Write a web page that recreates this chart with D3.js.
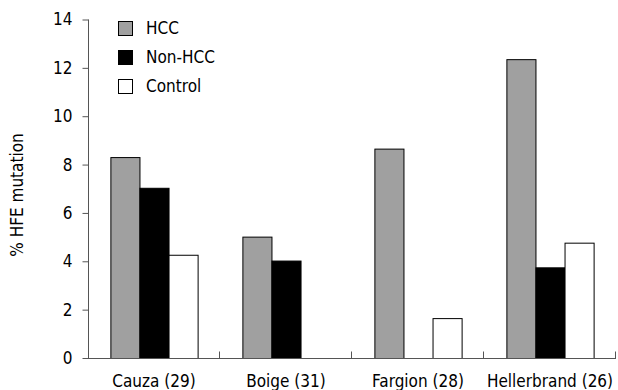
<!DOCTYPE html>
<html><head><meta charset="utf-8">
<script src="https://cdn.jsdelivr.net/npm/d3@7"></script>
<style>body{margin:0;background:#fff;} svg{display:block;} text{font-family:"DejaVu Sans Condensed","DejaVu Sans",sans-serif;}</style>
</head><body>
<svg id="c" width="618" height="390"></svg>
<script>
const categories = ["Cauza (29)", "Boige (31)", "Fargion (28)", "Hellerbrand (26)"];
const seriesNames = ["HCC", "Non-HCC", "Control"];
const hcc = [8.31, 5.02, 8.66, 12.36];
const nonHcc = [7.04, 4.03, 0, 3.75];
const control = [4.27, 0, 1.65, 4.77];
const yTicks = [0, 2, 4, 6, 8, 10, 12, 14];
const colors = ["#a0a0a0", "#000000", "#ffffff"];

const seriesValues = [hcc, nonHcc, control];
const svg = d3.select("#c");
const x = d3.scaleBand().domain(categories).range([88, 616]).paddingInner(0).paddingOuter(0);
const xs = d3.scaleBand().domain(seriesNames).range([0, x.bandwidth()]).paddingInner(0).paddingOuter(0.77);
const y = d3.scaleLinear().domain([0, 14]).range([358, 19.5]);
const fs = 17;

// bars
categories.forEach((c, ci) => {
  seriesNames.forEach((s, si) => {
    const v = seriesValues[si][ci];
    if (!v) return;
    svg.append("rect")
      .attr("x", x(c) + xs(s) + 0.5)
      .attr("y", y(v) + 0.5)
      .attr("width", xs.bandwidth())
      .attr("height", y(0) - y(v))
      .attr("fill", colors[si])
      .attr("stroke", "#000").attr("stroke-width", 1);
  });
});

// y axis
const yAxis = svg.append("g").attr("transform", "translate(88.5,0)")
  .call(d3.axisLeft(y).tickValues(yTicks).tickSize(6).tickPadding(10).tickFormat(d3.format("d")));
yAxis.select(".domain").attr("stroke", "#555").attr("d", "M0," + y(14) + "V" + y(0));
yAxis.selectAll(".tick line").attr("stroke", "#555");
yAxis.selectAll("text").attr("font-size", fs).attr("fill", "#000").style("font-family", "DejaVu Sans Condensed");

// x axis
const xb = svg.append("g").attr("transform", "translate(0," + (y(0) + 0.5) + ")");
xb.append("line").attr("x1", 88).attr("x2", 616).attr("stroke", "#555");
const bounds = categories.map(c => x(c) + x.bandwidth());
xb.selectAll(".tk").data(bounds).enter().append("line")
  .attr("x1", d => d - 0.5).attr("x2", d => d - 0.5).attr("y1", 0).attr("y2", -7).attr("stroke", "#555");
xb.selectAll(".lbl").data(categories).enter().append("text")
  .attr("x", d => x(d) + x.bandwidth() / 2).attr("y", 28.5)
  .attr("text-anchor", "middle").attr("font-size", fs).text(d => d);

// y title
svg.append("text").attr("transform", "translate(23,195) rotate(-90)")
  .attr("text-anchor", "middle").attr("font-size", fs).text("% HFE mutation");

// legend
const lg = svg.append("g").attr("transform", "translate(118,21)");
seriesNames.forEach((s, i) => {
  const g = lg.append("g").attr("transform", "translate(0," + i * 29 + ")");
  g.append("rect").attr("x", 0.5).attr("y", 0.5).attr("width", 14).attr("height", 14)
    .attr("fill", colors[i]).attr("stroke", "#000");
  g.append("text").attr("x", 28).attr("y", 7.5).attr("dy", "0.35em").attr("font-size", fs).text(s);
});
</script>
</body></html>
